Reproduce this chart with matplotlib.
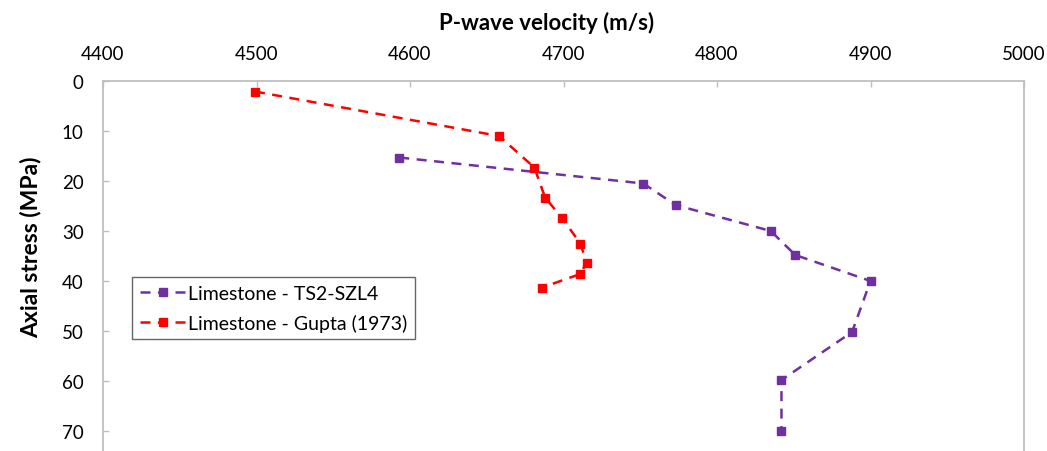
import matplotlib
matplotlib.use("Agg")
import matplotlib.pyplot as plt

# Limestone - TS2-SZL4 (this study)
ts2_velocity = [4593, 4752, 4773, 4835, 4851, 4900, 4888, 4842, 4842]
ts2_stress = [15.3, 20.5, 24.8, 30.0, 34.8, 40.0, 50.2, 59.8, 69.9]

# Limestone - Gupta (1973)
gupta_velocity = [4499, 4658, 4681, 4688, 4699, 4711, 4715, 4711, 4686]
gupta_stress = [2.1, 11.0, 17.3, 23.3, 27.4, 32.5, 36.3, 38.6, 41.3]

x_ticks = [4400, 4500, 4600, 4700, 4800, 4900, 5000]
y_ticks = [0, 10, 20, 30, 40, 50, 60, 70]

PURPLE = "#7030A0"
RED = "#FF0000"
GREY = "#BFBFBF"

plt.rcParams["font.family"] = ["Lato", "DejaVu Sans"]

W, H = 1047, 452
fig = plt.figure(figsize=(W / 100, H / 100), dpi=100)
ax = fig.add_axes([103 / W, 0, (1024 - 103) / W, 1 - 82 / H])

ax.plot(ts2_velocity, ts2_stress, color=PURPLE, linestyle=(0, (4, 3)), linewidth=1.8,
        marker="s", markersize=6, label="Limestone - TS2-SZL4")
ax.plot(gupta_velocity, gupta_stress, color=RED, linestyle=(0, (4, 3)), linewidth=1.8,
        marker="s", markersize=6, label="Limestone - Gupta (1973)")

ax.set_xlim(4400, 5000)
ax.set_ylim(74.0, 0)
ax.xaxis.tick_top()
ax.set_xticks(x_ticks)
ax.set_yticks(y_ticks)
ax.tick_params(direction="in", length=4, width=1, color=GREY, labelsize=13.5,
               pad=14)
ax.tick_params(axis="x", top=True, bottom=False)

for side in ("top", "left", "right"):
    ax.spines[side].set_color(GREY)
    ax.spines[side].set_linewidth(1.3)
ax.spines["bottom"].set_visible(False)

fig.text(547 / W, 1 - 23 / H, "P-wave velocity (m/s)", ha="center", va="center",
         fontsize=16, fontweight="bold")
fig.text(31 / W, 1 - 247 / H, "Axial stress (MPa)", ha="center", va="center",
         rotation=90, fontsize=16.5, fontweight="bold")

leg = ax.legend(loc="upper left", bbox_to_anchor=((132 - 103) / (1024 - 103), 1 - (278 - 82) / (452 - 82)),
                fontsize=14, frameon=True, fancybox=False, borderpad=0.4,
                handlelength=2.4, handletextpad=0.1, labelspacing=0.6,
                borderaxespad=0)
leg.get_frame().set_edgecolor("#404040")
leg.get_frame().set_linewidth(1.0)

fig.savefig("out.png", dpi=100)
